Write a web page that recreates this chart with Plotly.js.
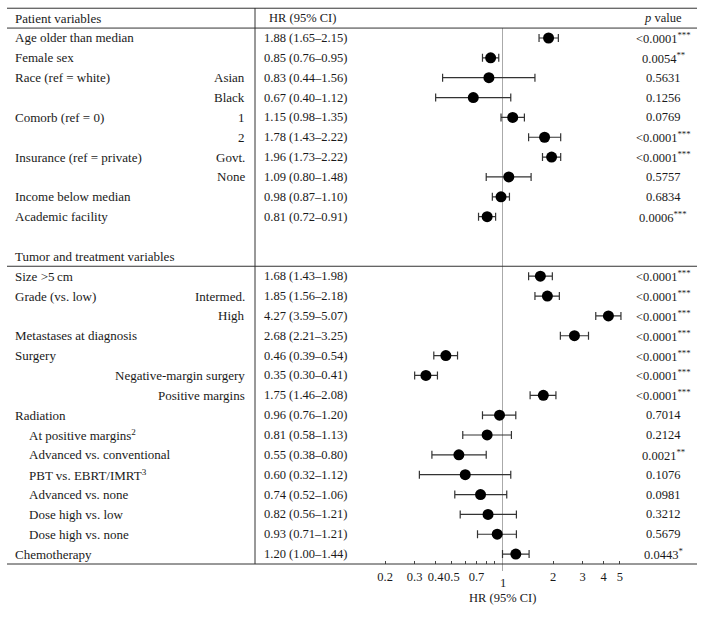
<!DOCTYPE html>
<html>
<head>
<meta charset="utf-8">
<script src="https://cdn.plot.ly/plotly-3.0.1.min.js"></script>
<style>html,body{margin:0;padding:0;background:#fff;}#chart{width:705px;height:617px;}</style>
</head>
<body>
<div id="chart"></div>
<script>
// ---- data ----
const sectionTitles = ["Patient variables", "Tumor and treatment variables"];
const patientLabels = ["Age older than median", "Female sex", "Race (ref = white)", "", "Comorb (ref = 0)", "", "Insurance (ref = private)", "", "Income below median", "Academic facility"];
const patientSub = ["", "", "Asian", "Black", "1", "2", "Govt.", "None", "", ""];
const patientHR = [1.88, 0.85, 0.83, 0.67, 1.15, 1.78, 1.96, 1.09, 0.98, 0.81];
const patientLo = [1.65, 0.76, 0.44, 0.40, 0.98, 1.43, 1.73, 0.80, 0.87, 0.72];
const patientHi = [2.15, 0.95, 1.56, 1.12, 1.35, 2.22, 2.22, 1.48, 1.10, 0.91];
const patientP = ["&lt;0.0001", "0.0054", "0.5631", "0.1256", "0.0769", "&lt;0.0001", "&lt;0.0001", "0.5757", "0.6834", "0.0006"];
const patientStars = ["***", "**", "", "", "", "***", "***", "", "", "***"];

const tumorLabels = ["Size &gt;5\u2009cm", "Grade (vs. low)", "", "Metastases at diagnosis", "Surgery", "", "", "Radiation", "At positive margins<sup>2</sup>", "Advanced vs. conventional", "PBT vs. EBRT/IMRT<sup>3</sup>", "Advanced vs. none", "Dose high vs. low", "Dose high vs. none", "Chemotherapy"];
const tumorIndented = [false, false, false, false, false, false, false, false, true, true, true, true, true, true, false];
const tumorSub = ["", "Intermed.", "High", "", "", "Negative-margin surgery", "Positive margins", "", "", "", "", "", "", "", ""];
const tumorHR = [1.68, 1.85, 4.27, 2.68, 0.46, 0.35, 1.75, 0.96, 0.81, 0.55, 0.60, 0.74, 0.82, 0.93, 1.20];
const tumorLo = [1.43, 1.56, 3.59, 2.21, 0.39, 0.30, 1.46, 0.76, 0.58, 0.38, 0.32, 0.52, 0.56, 0.71, 1.00];
const tumorHi = [1.98, 2.18, 5.07, 3.25, 0.54, 0.41, 2.08, 1.20, 1.13, 0.80, 1.12, 1.06, 1.21, 1.21, 1.44];
const tumorP = ["&lt;0.0001", "&lt;0.0001", "&lt;0.0001", "&lt;0.0001", "&lt;0.0001", "&lt;0.0001", "&lt;0.0001", "0.7014", "0.2124", "0.0021", "0.1076", "0.0981", "0.3212", "0.5679", "0.0443"];
const tumorStars = ["***", "***", "***", "***", "***", "***", "***", "", "", "**", "", "", "", "", "*"];

const tickVals = [0.2, 0.3, 0.4, 0.5, 0.7, 2, 3, 4, 5];
const tickText = ["0.2", "0.3", "0.4", "0.5", "0.7", "2", "3", "4", "5"];
const minorTickVals = [0.6, 0.8, 0.9];
const headerHR = "HR (95% CI)";
const headerP = "<i>p</i> value";
const axisTitle = "HR (95% CI)";

// ---- layout helpers ----
const W = 705, H = 617;
const plotH = 564;               // bottom of plot area in px
const pxX = v => v / W;          // px -> paper x
const pxY = v => (plotH - v) / plotH; // px -> paper y (plot area = 0..564px)
const FONT = "Liberation Serif, Times New Roman, serif";
const TXT = "#1a1a1a";

// row positions (row index units)
const patientRows = patientHR.map((_, i) => i);
const tumorHeaderRow = patientHR.length + 1;
const tumorRows = tumorHR.map((_, i) => tumorHeaderRow + 1 + i);

const allHR = patientHR.concat(tumorHR);
const allLo = patientLo.concat(tumorLo);
const allHi = patientHi.concat(tumorHi);
const allRows = patientRows.concat(tumorRows);
const allLabels = patientLabels.concat(tumorLabels);
const allIndent = patientHR.map(() => false).concat(tumorIndented);
const allSub = patientSub.concat(tumorSub);
const allP = patientP.concat(tumorP);
const allStars = patientStars.concat(tumorStars);

const fmt = v => v.toFixed(2);
const hrText = allHR.map((h, i) => fmt(h) + " (" + fmt(allLo[i]) + "\u2013" + fmt(allHi[i]) + ")");

const trace = {
  type: "scatter", mode: "markers",
  x: allHR, y: allRows,
  marker: {size: 11, color: "#000"},
  error_x: {type: "data", symmetric: false,
    array: allHR.map((h, i) => allHi[i] - h),
    arrayminus: allHR.map((h, i) => h - allLo[i]),
    color: "#333", thickness: 1.2, width: 4},
  cliponaxis: false, hoverinfo: "skip", showlegend: false
};

const ann = [];
const lab = (text, x, y, anchor, size, extra) => Object.assign({
  text: text, xref: "paper", yref: "y", x: x, y: y, xanchor: anchor, yanchor: "middle",
  showarrow: false, font: {family: FONT, size: size, color: TXT}
}, extra || {});

// headers
ann.push(lab(sectionTitles[0], pxX(13), -1, "left", 13));
ann.push(lab(sectionTitles[1], pxX(13), tumorHeaderRow, "left", 13));
ann.push(lab(headerHR, pxX(302), -1, "center", 12.5));
ann.push(lab(headerP, pxX(663), -1, "center", 12.5));

allRows.forEach((r, i) => {
  if (allLabels[i]) ann.push(lab(allLabels[i], pxX(allIndent[i] ? 27 : 13), r, "left", 13));
  if (allSub[i]) ann.push(lab(allSub[i], pxX(247), r, "right", 13));
  ann.push(lab(hrText[i], pxX(262), r, "left", 12.5));
  ann.push(lab(allP[i] + (allStars[i] ? "<sup>" + allStars[i] + "</sup>" : ""), pxX(663), r, "center", 12.5));
});

// axis "1" label and axis title
ann.push({text: "1", xref: "x", yref: "paper", x: 0, y: pxY(583), xanchor: "center", yanchor: "middle",
  showarrow: false, font: {family: FONT, size: 12.5, color: TXT}});
ann.push({text: axisTitle, xref: "x", yref: "paper", x: 0, y: pxY(598), xanchor: "center", yanchor: "middle",
  showarrow: false, font: {family: FONT, size: 12.5, color: TXT}});

const lineC = "#333";
const shapes = [
  {type: "line", xref: "paper", yref: "y", x0: pxX(7), x1: pxX(697), y0: -1.5, y1: -1.5, line: {color: lineC, width: 1}},
  {type: "line", xref: "paper", yref: "y", x0: pxX(7), x1: pxX(697), y0: -0.5, y1: -0.5, line: {color: lineC, width: 1}},
  {type: "line", xref: "paper", yref: "y", x0: pxX(7), x1: pxX(697), y0: tumorHeaderRow + 0.5, y1: tumorHeaderRow + 0.5, line: {color: lineC, width: 1}},
  {type: "line", xref: "paper", yref: "paper", x0: pxX(7), x1: pxX(697), y0: 0, y1: 0, line: {color: lineC, width: 1}},
  {type: "line", xref: "paper", yref: "paper", x0: pxX(255), x1: pxX(255), y0: pxY(8), y1: 0, line: {color: lineC, width: 1}},
  {type: "line", xref: "x", yref: "paper", x0: 1, x1: 1, y0: pxY(28), y1: pxY(571), line: {color: "#aaa", width: 1}, layer: "below"}
];

const x1px = 502.5, decade = 168;
const layout = {
  width: W, height: H,
  margin: {l: 0, r: 0, t: 0, b: H - plotH, pad: 0},
  paper_bgcolor: "#fff", plot_bgcolor: "#fff",
  xaxis: {type: "log", range: [-x1px / decade, (W - x1px) / decade],
    showgrid: false, zeroline: false, showline: false,
    tickmode: "array", tickvals: tickVals, ticktext: tickText, tickangle: 0,
    ticks: "inside", ticklen: 3, tickcolor: "#444", tickwidth: 1,
    minor: {tickmode: "array", tickvals: minorTickVals, ticks: "inside", ticklen: 3, tickcolor: "#444", tickwidth: 1, showgrid: false},
    ticklabelstandoff: 3,
    tickfont: {family: FONT, size: 12.5, color: TXT}, fixedrange: true},
  yaxis: {range: [tumorRows[tumorRows.length - 1] + 0.5, -1.914], visible: false, fixedrange: true},
  shapes: shapes,
  annotations: ann
};

Plotly.newPlot("chart", [trace], layout, {displayModeBar: false, staticPlot: true});
</script>
</body>
</html>
